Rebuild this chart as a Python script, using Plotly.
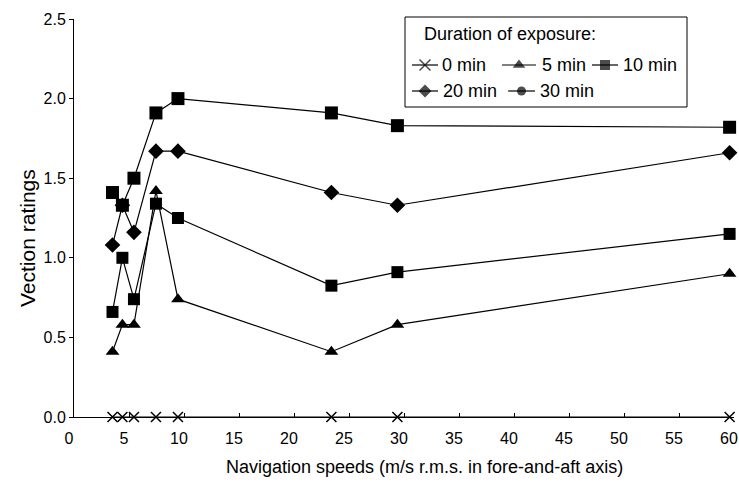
import plotly.graph_objects as go

speeds = [3.5, 4.4, 5.45, 7.45, 9.45, 23.4, 29.4, 59.6]
min0 = [0, 0, 0, 0, 0, 0, 0, 0]
min5 = [0.41, 0.58, 0.58, 1.42, 0.74, 0.41, 0.58, 0.90]
min10 = [0.66, 1.00, 0.74, 1.34, 1.25, 0.825, 0.91, 1.15]
min20 = [1.08, 1.33, 1.16, 1.67, 1.67, 1.41, 1.33, 1.66]
min30 = [1.41, 1.33, 1.50, 1.91, 2.00, 1.91, 1.83, 1.82]

x_ticks = list(range(0, 61, 5))
y_ticks = [0.0, 0.5, 1.0, 1.5, 2.0, 2.5]
y_tick_text = ["0.0", "0.5", "1.0", "1.5", "2.0", "2.5"]

legend_title = "Duration of exposure:"
legend_names = ["0 min", "5 min", "10 min", "20 min", "30 min"]
legend_symbols = ["x-thin", "triangle-up", "square", "diamond", "circle"]

FONT = "Liberation Sans, Arial, sans-serif"
W, H = 739, 486
L, R, T, B = 74, 734, 19, 417  # plot area in pixels
line = dict(color="black", width=1.2)

def px(x):
    return (x - L) / (R - L)

def py(y):
    return (B - y) / (B - T)

fig = go.Figure()

def add(name, y, symbol, size, lw=0):
    fig.add_trace(go.Scatter(
        x=speeds, y=y, name=name, mode="lines+markers",
        line=line,
        marker=dict(symbol=symbol, size=size, color="black",
                    line=dict(color="black", width=lw)),
        cliponaxis=False, showlegend=False))

add("0 min", min0, "x-thin", 10, lw=1.5)
add("5 min", min5, "triangle-up", 12)
add("10 min", min10, "square", 12)
add("20 min", min20, "diamond", 12)
add("30 min", min30, "square", 13)

# ---- hand-built legend (pixel layout on an overlay axis) ----
legend_pos = [  # (segment start, segment end, text start, row centre y) in pixels
    (412, 438, 440, 65),
    (502, 536, 540, 65),
    (592, 618, 621, 65),
    (412, 438, 441, 91),
    (508, 535, 538, 91),
]
legend_sizes = [11, 11, 10, 10, 9]
for name, sym, (x0, x1, tx, yy), sz in zip(legend_names, legend_symbols, legend_pos, legend_sizes):
    fig.add_trace(go.Scatter(
        x=[x0, (x0 + x1) / 2, x1], y=[H - yy] * 3, mode="lines+markers",
        xaxis="x2", yaxis="y2", line=dict(color="black", width=1.2),
        marker=dict(symbol=sym, size=[0, sz, 0], color="black",
                    line=dict(color="black", width=1.5 if sym == "x-thin" else 0)),
        showlegend=False, hoverinfo="skip"))
    fig.add_annotation(text=name, xref="paper", yref="paper", x=px(tx), y=py(yy),
                       xanchor="left", yanchor="middle", showarrow=False,
                       font=dict(size=18))

fig.add_annotation(text=legend_title, xref="paper", yref="paper", x=px(422), y=py(34),
                   xanchor="left", yanchor="middle", showarrow=False, font=dict(size=18))
fig.add_shape(type="rect", xref="paper", yref="paper", x0=px(405), x1=px(687),
              y0=py(107), y1=py(17), line=dict(color="black", width=1),
              fillcolor="white", layer="below")

# axis titles
fig.add_annotation(text="Navigation speeds (m/s r.m.s. in fore-and-aft axis)",
                   xref="paper", yref="paper", x=px(424), y=py(467),
                   xanchor="center", yanchor="middle", showarrow=False, font=dict(size=18))
fig.add_annotation(text="Vection ratings", textangle=-90,
                   xref="paper", yref="paper", x=px(27), y=py(238),
                   xanchor="center", yanchor="middle", showarrow=False, font=dict(size=21))

fig.update_layout(
    width=W, height=H,
    margin=dict(l=L, r=W - R, t=T, b=H - B),
    paper_bgcolor="white", plot_bgcolor="white",
    font=dict(family=FONT, size=16, color="black"),
    showlegend=False,
    xaxis=dict(
        range=[0, 60], tickvals=x_ticks, ticks="inside", ticklen=4, tickcolor="black",
        showline=True, linecolor="black", linewidth=1, showgrid=False, zeroline=False,
        tickfont=dict(size=16), ticklabeloverflow="allow", automargin=False,
        ticklabelstandoff=7, ticklabelshift=-5,
    ),
    yaxis=dict(
        range=[0, 2.5], tickvals=y_ticks, ticktext=y_tick_text, ticks="outside",
        ticklen=4, tickcolor="black", showline=True, linecolor="black", linewidth=1,
        showgrid=False, zeroline=False, tickfont=dict(size=16), automargin=False,
    ),
    xaxis2=dict(overlaying="x", range=[L, R], visible=False, fixedrange=True),
    yaxis2=dict(overlaying="y", range=[H - B, H - T], visible=False, fixedrange=True),
)

fig.write_html("out.html")
